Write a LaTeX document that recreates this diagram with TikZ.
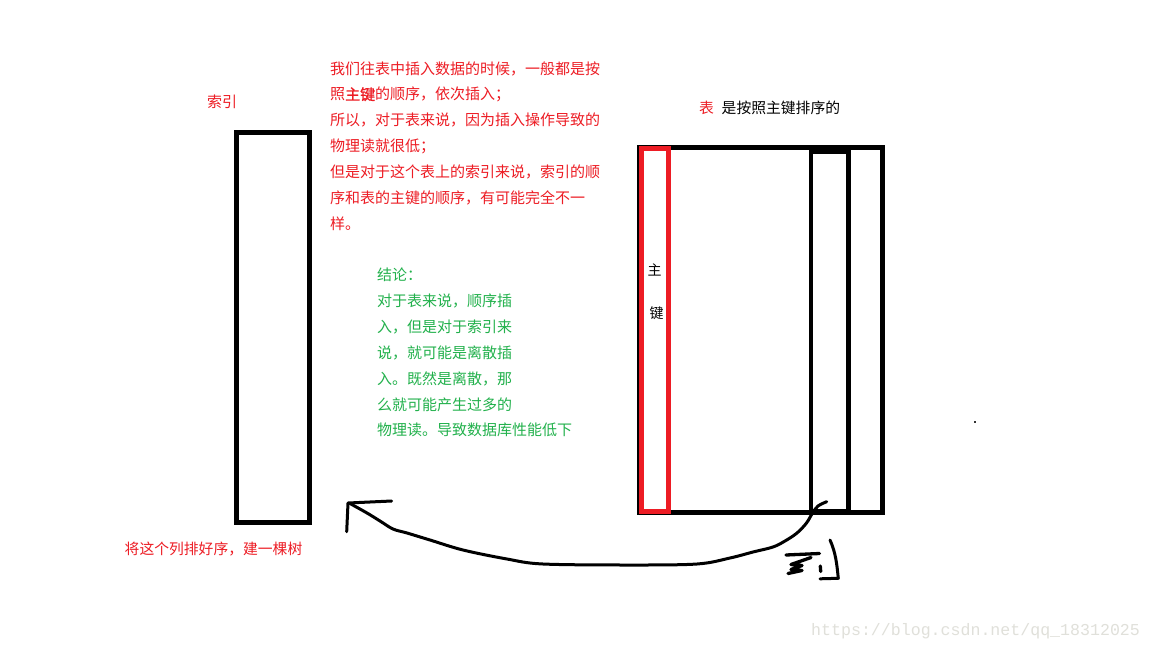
\documentclass[tikz,border=0pt]{standalone}
\usepackage{fontspec}
\newfontfamily\cjk[AutoFakeBold=1.2]{Noto Sans CJK SC}
\newfontfamily\wmfont{Liberation Mono}
\definecolor{pred}{RGB}{237,28,36}
\definecolor{pgreen}{RGB}{34,177,76}
\definecolor{wmgray}{RGB}{224,224,218}
\tikzset{
  redtxt/.style={anchor=base west, inner sep=0pt, text=pred, font=\cjk\fontsize{15}{15}\selectfont},
  greentxt/.style={anchor=base west, inner sep=0pt, text=pgreen, font=\cjk\fontsize{15}{15}\selectfont},
  blacktxt/.style={anchor=base west, inner sep=0pt, text=black, font=\cjk\fontsize{14.8}{14.8}\selectfont},
  boxline/.style={draw=black, line width=5pt, inner sep=0pt, outer sep=0pt},
  redline/.style={draw=pred, line width=5pt, inner sep=0pt, outer sep=0pt},
  stroke/.style={draw=black, line width=3pt, line cap=round, line join=round},
  thickstroke/.style={draw=black, line width=3.3pt, line cap=round, line join=round}
}
\begin{document}
\begin{tikzpicture}[x=1pt,y=-1pt]
\fill[white] (0,0) rectangle (1152,648);
\useasboundingbox (0,0) rectangle (1152,648);

% index column
\node[boxline, minimum width=73pt, minimum height=390pt] (index) at (273,327.5) {};
\node[redtxt] (indexlabel) at (207,107.7) {索引};
\node[redtxt, font=\cjk\fontsize{14.8}{14.8}\selectfont] (sortlabel) at (124.5,554.6) {将这个列排好序，建一棵树};

% table
\node[boxline, minimum width=243pt, minimum height=364.5pt] (table) at (761,329.75) {};
\node[boxline, line width=4.6pt, minimum width=37.7pt, minimum height=359pt] (col) at (829.65,331.5) {};
\node[redline, minimum width=26.8pt, minimum height=362.5pt] (pk) at (655.1,329.75) {};
\node[blacktxt, font=\cjk\fontsize{14}{14}\selectfont] (pk1) at (647.5,275.3) {主};
\node[blacktxt, font=\cjk\fontsize{14}{14}\selectfont] (pk2) at (649.5,318.3) {键};
\node[blacktxt, text=pred] (tbl) at (699,113.5) {表};
\node[blacktxt] (tbldesc) at (721.5,113.5) {是按照主键排序的};

% red paragraph
\foreach \t [count=\i from 0] in {我们往表中插入数据的时候，一般都是按,
  照{\bfseries 主键}的顺序，依次插入；,
  所以，对于表来说，因为插入操作导致的,
  物理读就很低；,
  但是对于这个表上的索引来说，索引的顺,
  序和表的主键的顺序，有可能完全不一,
  样。}
  \node[redtxt] (red\i) at (330,{74.1+25.85*\i}) {\t};

% green paragraph
\foreach \t [count=\i from 0] in {结论：,
  对于表来说，顺序插,
  入，但是对于索引来,
  说，就可能是离散插,
  入。既然是离散，那,
  么就可能产生过多的,
  物理读。导致数据库性能低下}
  \node[greentxt] (green\i) at (377,{280.8+25.85*\i}) {\t};

% hand-drawn arrow from table to index
\coordinate (arrowstart) at (826.7,501.7);
\coordinate (arrowtip) at (348,503);
\draw[stroke] plot[smooth, tension=0.55] coordinates {
  (826.7,501.7) (818,506) (812.5,513) (806.5,523) (797,533) (785,541)
  (773,547) (753,552) (730,558) (697,564) (630,565) (543,564) (507,559)
  (463,550) (430,540) (407,533) (393,529) (380,521) (367,513) (350,503.5)};
\draw[stroke] (391.7,501) -- (arrowtip) -- (346.7,531.7);

% scribbled character
\draw[thickstroke] (786,555) -- (819.5,553.5);
\draw[thickstroke] (811,557.5) -- (791,564.5) -- (802,565.5) -- (791,569.5) -- (802,570.5) -- (788,573.5);
\draw[thickstroke] (820.3,566) -- (820.7,571.5);
\draw[stroke] (830,540) .. controls (836,553) and (837,566) .. (838.3,578.3) -- (820,578.8);

% stray dot
\fill[black!80] (974,421) rectangle (976,423);

% watermark
\node[anchor=base west, inner sep=0pt, text=wmgray, font=\wmfont\fontsize{16.6}{16.6}\selectfont] (wm) at (811,635) {https://blog.csdn.net/qq\_18312025};
\end{tikzpicture}
\end{document}
